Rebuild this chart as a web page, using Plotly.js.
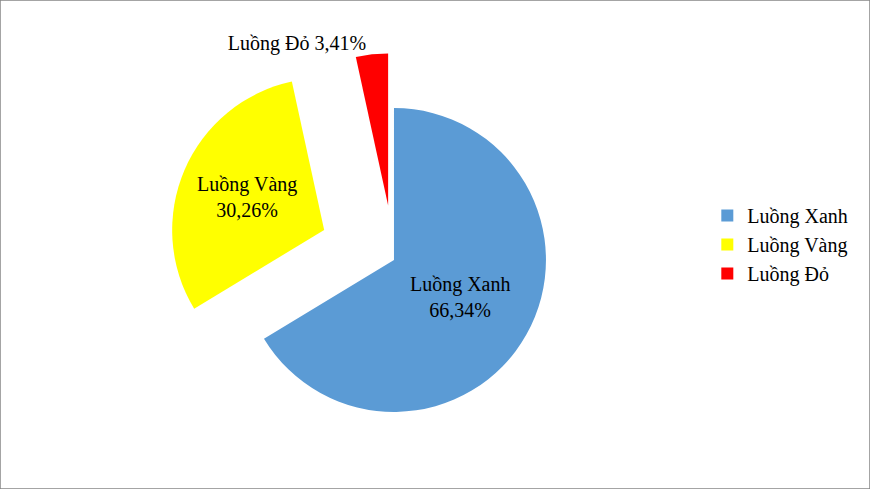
<!DOCTYPE html>
<html>
<head>
<meta charset="utf-8">
<script src="https://cdn.plot.ly/plotly-3.0.1.min.js"></script>
<style>
  html, body { margin: 0; padding: 0; background: #fff; }
  #chart { width: 870px; height: 489px; }
</style>
</head>
<body>
<div id="chart"></div>
<script>
var labels = ['Luồng Xanh', 'Luồng Vàng', 'Luồng Đỏ'];
var values = [66.34, 30.26, 3.41];
var valueTexts = ['66,34%', '30,26%', '3,41%'];
var colors = ['#5B9BD5', '#FFFF00', '#FF0000'];
var pulls = [0, 0.5, 0.36];

function drawPie(divId) {
  var trace1 = {
    type: 'pie',
    labels: labels,
    values: values,
    text: valueTexts,
    sort: false,
    direction: 'clockwise',
    rotation: 0,
    pull: pulls,
    marker: {
      colors: colors,
      line: { width: 0 }
    },
    texttemplate: ['%{label}<br>%{text}', '%{label}<br>%{text}', '%{label} %{text}'],
    textposition: ['inside', 'inside', 'outside'],
    insidetextorientation: 'horizontal',
    textfont: { family: 'Liberation Serif, Times New Roman, serif', size: 20, color: '#000' },
    insidetextfont: { family: 'Liberation Serif, Times New Roman, serif', size: 20, color: '#000' },
    outsidetextfont: { family: 'Liberation Serif, Times New Roman, serif', size: 20, color: '#000' },
    hoverinfo: 'label+text',
    domain: { x: [0.1908, 0.7149], y: [0.002, 0.9346] }
  };

  var layout = {
    width: 870,
    height: 489,
    margin: { l: 0, r: 0, t: 0, b: 0 },
    paper_bgcolor: '#fff',
    showlegend: true,
    legend: {
      x: 0.813,
      y: 0.5,
      xanchor: 'left',
      yanchor: 'middle',
      font: { family: 'Liberation Serif, Times New Roman, serif', size: 20, color: '#000' }
    },
    shapes: [{
      type: 'rect',
      xref: 'paper', yref: 'paper',
      x0: 0, x1: 1, y0: 0, y1: 1,
      line: { color: '#868686', width: 1.5 }
    }]
  };

  Plotly.newPlot(divId, [trace1], layout, { displayModeBar: false, staticPlot: true });
}

drawPie('chart');
</script>
</body>
</html>
